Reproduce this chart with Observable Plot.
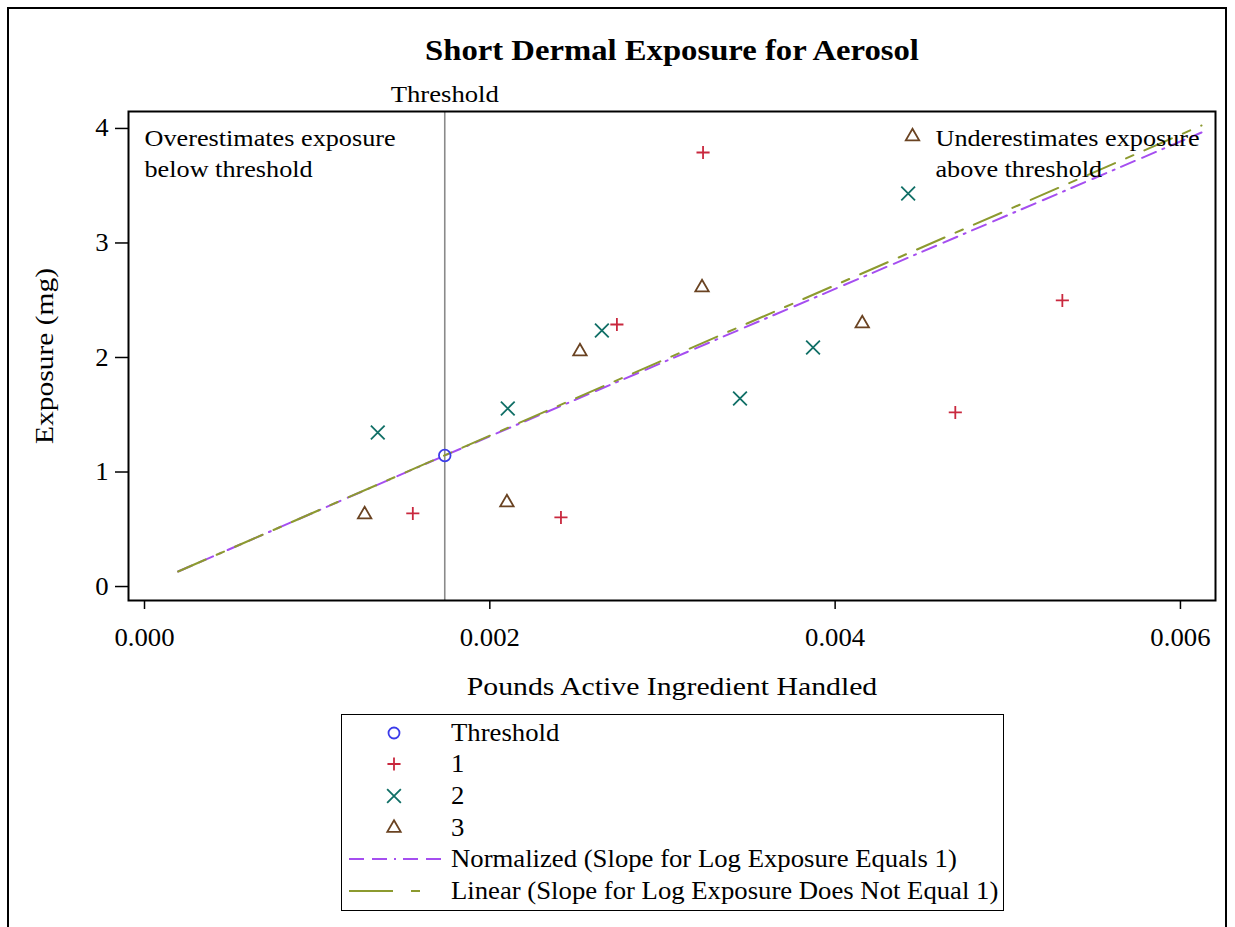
<!DOCTYPE html>
<html>
<head>
<meta charset="utf-8">
<script src="https://cdn.jsdelivr.net/npm/d3@7"></script>
<script src="https://cdn.jsdelivr.net/npm/@observablehq/plot@0.6"></script>
<style>
  html, body { margin: 0; padding: 0; background: #fff; }
  body { width: 1235px; height: 927px; position: relative; overflow: hidden; font-family: "Liberation Serif", "Times New Roman", Times, "DejaVu Serif", serif; }
  #outer { position: absolute; left: 7px; top: 7px; width: 1220px; height: 960px; border: 2px solid #000; border-bottom: none; box-sizing: border-box; }
  #chart { position: absolute; left: 0; top: 0; }
  #chart svg, #chart svg text { font-family: "Liberation Serif", "Times New Roman", Times, "DejaVu Serif", serif !important; }
  #legend { position: absolute; left: 341px; top: 714px; width: 663px; height: 197px; border: 1.5px solid #000; box-sizing: border-box; padding-top: 2px; }
  .row { height: 31.6px; display: flex; align-items: center; font-size: 24.5px; color: #000; }
  .row svg { width: 104px; height: 30px; flex: none; }
  .row span { margin-left: 5px; white-space: nowrap; display: inline-block; transform: scaleX(1.09); transform-origin: 0 50%; }
</style>
</head>
<body>
<div id="outer"></div>
<div id="chart"></div>
<div id="legend"></div>
<script>
// ---- data ----
const thresholdX = [0.001739];
const thresholdY = [1.144];

const series1X = [0.001554, 0.002412, 0.002736, 0.003235, 0.004696, 0.005316];
const series1Y = [0.638, 0.603, 2.288, 3.790, 1.520, 2.498];

const series2X = [0.001351, 0.002104, 0.002649, 0.003449, 0.003872, 0.004423];
const series2Y = [1.345, 1.555, 2.236, 1.642, 2.087, 3.432];

const series3X = [0.001275, 0.002099, 0.002522, 0.003229, 0.004157];
const series3Y = [0.629, 0.734, 2.052, 2.611, 2.297];

const normalizedX = [0.000195, 0.001739, 0.006122];
const normalizedY = [0.131, 1.144, 3.965];

const linearX = [0.000195, 0.006122];
const linearY = [0.131, 4.026];

const xTicks = [0, 0.002, 0.004, 0.006];
const yTicks = [0, 1, 2, 3, 4];

const legendLabels = ["Threshold", "1", "2", "3",
  "Normalized (Slope for Log Exposure Equals 1)",
  "Linear (Slope for Log Exposure Does Not Equal 1)"];

const titleText = "Short Dermal Exposure for Aerosol";
const xLabel = "Pounds Active Ingredient Handled";
const yLabel = "Exposure (mg)";
const refLabel = "Threshold";
const annotLeft = "Overestimates exposure\nbelow threshold";
const annotRight = "Underestimates exposure\nabove threshold";
const annotRightX = [0.004581];
const annotMarkX = [0.004448];
const annotMarkY = [3.93];

// ---- styles ----
const serif = "'Liberation Serif', 'Times New Roman', Times, 'DejaVu Serif', serif";
const cThreshold = "#3b3bea";
const c1 = "#c9283e";
const c2 = "#106f66";
const c3 = "#6a4322";
const cNorm = "#a54ef0";
const cLin = "#8c9a2f";
const dashNorm = "15,8,15,7,2,7";
const dashLin = "30,12,8,12";
const rPlus = 4.3, rTimes = 6.3, rTri = 6.4, rCircle = 5.8;

const pts = (xs, ys) => xs.map((x, i) => ({x, y: ys[i]}));

const chart = Plot.plot({
  width: 1235,
  height: 720,
  marginTop: 111,
  marginBottom: 120,
  marginLeft: 128,
  marginRight: 20,
  style: { fontFamily: serif, fontSize: "25px", color: "#000", background: "transparent" },
  x: { domain: [-0.0000927, 0.006203] },
  y: { domain: [-0.122, 4.148] },
  marks: [
    Plot.ruleX(thresholdX, { x: d => d, stroke: "#8a8a8a", strokeWidth: 1.6 }),
    Plot.line(pts(normalizedX, normalizedY), { x: "x", y: "y", stroke: cNorm, strokeWidth: 2, strokeDasharray: dashNorm }),
    Plot.line(pts(linearX, linearY), { x: "x", y: "y", stroke: cLin, strokeWidth: 2, strokeDasharray: dashLin }),
    Plot.dot(pts(series1X, series1Y), { x: "x", y: "y", symbol: "plus", r: rPlus, stroke: c1, strokeWidth: 1.8 }),
    Plot.dot(pts(series2X, series2Y), { x: "x", y: "y", symbol: "times", r: rTimes, stroke: c2, strokeWidth: 1.8 }),
    Plot.dot(pts(series3X, series3Y), { x: "x", y: "y", symbol: "triangle2", r: rTri, stroke: c3, strokeWidth: 1.8, fill: "none" }),
    Plot.dot(pts(thresholdX, thresholdY), { x: "x", y: "y", symbol: "circle", r: rCircle, stroke: cThreshold, strokeWidth: 1.8, fill: "none" }),
    Plot.dot(pts(annotMarkX, annotMarkY), { x: "x", y: "y", symbol: "triangle2", r: rTri, stroke: c3, strokeWidth: 1.8, fill: "none" }),
    Plot.text([annotLeft], { text: d => d, frameAnchor: "top-left", dx: 16, dy: 12.5, lineAnchor: "top", textAnchor: "start", lineHeight: 1.35, fontSize: 23 }),
    Plot.text(annotRightX, { x: d => d, text: () => annotRight, frameAnchor: "top", dy: 12.5, lineAnchor: "top", textAnchor: "start", lineHeight: 1.35, fontSize: 23 }),
    Plot.text(thresholdX, { x: d => d, text: () => refLabel, frameAnchor: "top", dy: -17, lineAnchor: "middle", fontSize: 23 }),
    Plot.frame({ stroke: "#000", strokeWidth: 2 }),
    Plot.axisX({ ticks: xTicks, tickFormat: d3.format(".3f"), tickSize: 9, tickPadding: 19, label: null, fontSize: 25, strokeWidth: 1.5 }),
    Plot.axisY({ ticks: yTicks, tickFormat: d3.format("d"), tickSize: 13, tickPadding: 7, label: null, fontSize: 25, strokeWidth: 1.5 }),
    Plot.text([xLabel], { text: d => d, frameAnchor: "bottom", dy: 86, lineAnchor: "middle", fontSize: 25 }),
    Plot.text([yLabel], { text: d => d, frameAnchor: "left", dx: -84, rotate: -90, textAnchor: "middle", lineAnchor: "middle", fontSize: 25 }),
    Plot.text([titleText], { text: d => d, frameAnchor: "top", dy: -61, lineAnchor: "middle", fontSize: 30, fontWeight: "bold" })
  ]
});
document.getElementById("chart").appendChild(chart);

// horizontal widening of glyphs, to match the wider serif face of the original
const stretchByText = new Map([
  [titleText, 1.09], [xLabel, 1.19], [yLabel, 1.18], [refLabel, 1.16],
  [annotLeft.replace("\n", ""), 1.14], [annotRight.replace("\n", ""), 1.14]
]);
chart.querySelectorAll("text").forEach(t => {
  const g = t.closest("g[aria-label]");
  const role = g ? g.getAttribute("aria-label") : "";
  let k = stretchByText.get(t.textContent);
  if (k === undefined && /tick label/.test(role)) k = 1.07;
  if (k === undefined) return;
  const tr = t.getAttribute("transform") || "";
  t.setAttribute("transform", `${tr} scale(${k},1)`);
});

// ---- legend (HTML, below the SVG) ----
const ns = "http://www.w3.org/2000/svg";
function icon(kind) {
  const svg = document.createElementNS(ns, "svg");
  svg.setAttribute("viewBox", "0 0 104 30");
  const add = (tag, attrs) => { const el = document.createElementNS(ns, tag); for (const k in attrs) el.setAttribute(k, attrs[k]); svg.appendChild(el); return el; };
  const cx = 52, cy = 15;
  if (kind === 0) add("circle", { cx, cy, r: 5.5, fill: "none", stroke: cThreshold, "stroke-width": 1.8 });
  if (kind === 1) add("path", { d: d3.symbol(d3.symbolPlus, Math.PI * rPlus * rPlus)(), transform: `translate(${cx},${cy})`, fill: "none", stroke: c1, "stroke-width": 1.8 });
  if (kind === 2) add("path", { d: d3.symbol(d3.symbolTimes, Math.PI * rTimes * rTimes)(), transform: `translate(${cx},${cy})`, fill: "none", stroke: c2, "stroke-width": 1.8 });
  if (kind === 3) add("path", { d: d3.symbol(d3.symbolTriangle2, Math.PI * rTri * rTri)(), transform: `translate(${cx},${cy})`, fill: "none", stroke: c3, "stroke-width": 1.8 });
  if (kind === 4) add("line", { x1: 7, x2: 100, y1: cy, y2: cy, stroke: cNorm, "stroke-width": 2, "stroke-dasharray": dashNorm });
  if (kind === 5) add("line", { x1: 7, x2: 100, y1: cy, y2: cy, stroke: cLin, "stroke-width": 2, "stroke-dasharray": "44,18,9,40" });
  return svg;
}
const legend = document.getElementById("legend");
legendLabels.forEach((lab, i) => {
  const row = document.createElement("div");
  row.className = "row";
  row.appendChild(icon(i));
  const span = document.createElement("span");
  span.textContent = lab;
  row.appendChild(span);
  legend.appendChild(row);
});
</script>
</body>
</html>
